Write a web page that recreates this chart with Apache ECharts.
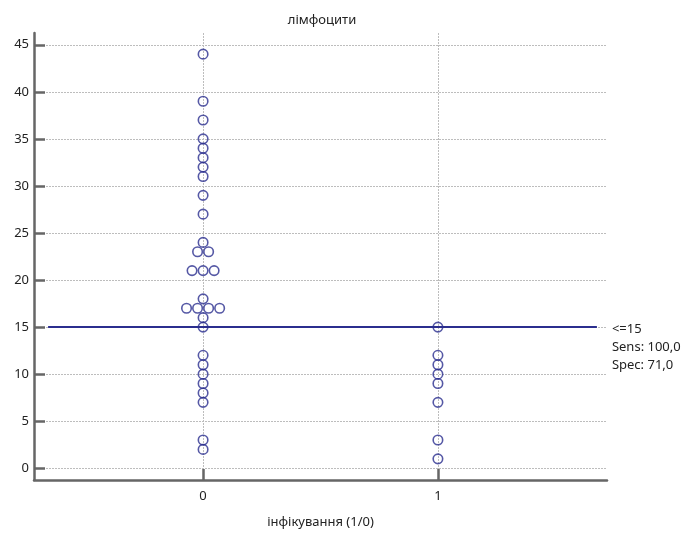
<!DOCTYPE html>
<html>
<head>
<meta charset="utf-8">
<script src="https://cdn.jsdelivr.net/npm/echarts@6/dist/echarts.min.js"></script>
<style>
  html, body { margin: 0; padding: 0; background: #fff; }
  #chart { width: 690px; height: 534px; }
</style>
</head>
<body>
<div id="chart"></div>
<script>
// Lymphocyte counts by infection status (0 = not infected, 1 = infected)
const groups = [0, 1];
const lymphGroup0 = [44, 39, 37, 35, 34, 33, 32, 31, 29, 27, 24, 23, 23, 21, 21, 21,
                     18, 17, 17, 17, 17, 16, 15, 12, 11, 10, 9, 8, 7, 3, 2];
const lymphGroup1 = [15, 12, 11, 10, 9, 7, 3, 1];
const yTicks = [0, 5, 10, 15, 20, 25, 30, 35, 40, 45];

// Criterion from ROC analysis
const cutoff = 15;
const cutoffLabel = ['<=15', 'Sens: 100,0', 'Spec: 71,0'];

const FONT = '"Noto Sans", "Open Sans", sans-serif';
const NAVY = '#2b2e8e';
const AXIS = '#666666';
const GRID = '#bdbdbd';

// Spread equal values side by side, centred on the group position
const SPREAD = 0.047;
function dotPlot(x, values) {
  const counts = {};
  values.forEach(v => { counts[v] = (counts[v] || 0) + 1; });
  const seen = {};
  return values.map(v => {
    const n = counts[v];
    const i = seen[v] = (seen[v] === undefined ? 0 : seen[v] + 1);
    return [x + (i - (n - 1) / 2) * SPREAD, v];
  });
}

const points = dotPlot(groups[0], lymphGroup0).concat(dotPlot(groups[1], lymphGroup1));

const chart = echarts.init(document.getElementById('chart'));
chart.setOption({
  animation: false,
  backgroundColor: '#fff',
  textStyle: { fontFamily: FONT },
  title: {
    text: 'лімфоцити',
    left: 317, top: 9, textAlign: 'center',
    textStyle: { fontFamily: FONT, fontSize: 13, fontWeight: 'normal', color: '#222' }
  },
  grid: { left: 34, right: 83, top: 33, bottom: 47 },
  xAxis: {
    type: 'value',
    min: -0.72, max: 1.72,
    name: 'інфікування (1/0)',
    nameLocation: 'middle', nameGap: 36,
    nameTextStyle: { fontFamily: FONT, fontSize: 13, color: '#222' },
    axisLine: { show: true, onZero: false, lineStyle: { color: AXIS, width: 2.5 } },
    axisTick: { show: true, inside: true, length: 11, customValues: groups,
                lineStyle: { color: AXIS, width: 2.5 } },
    axisLabel: { customValues: groups, margin: 10, fontFamily: FONT, fontSize: 13, color: '#222' },
    splitLine: { show: true, lineStyle: { type: [2, 1], color: GRID, width: 1 } }
  },
  yAxis: {
    type: 'value',
    min: -1.25, max: 46.25,
    axisLine: { show: true, onZero: false, lineStyle: { color: AXIS, width: 2.5 } },
    axisTick: { show: true, inside: true, length: 11, customValues: yTicks,
                lineStyle: { color: AXIS, width: 2.5 } },
    axisLabel: { customValues: yTicks, margin: 5, fontFamily: FONT, fontSize: 13, color: '#222' },
    splitLine: { show: true, lineStyle: { type: [2, 1], color: GRID, width: 1 } }
  },
  series: [
    {
      type: 'line',
      data: [[-0.66, cutoff], [1.677, cutoff]],
      symbol: 'none',
      lineStyle: { color: NAVY, width: 2 },
      z: 2
    },
    {
      type: 'scatter',
      data: points,
      symbol: 'circle',
      symbolSize: 9.5,
      itemStyle: { color: 'rgba(0,0,0,0)', borderColor: NAVY, borderWidth: 1.6 },
      z: 3
    }
  ]
});

// Criterion annotation to the right of the cut-off line
const end = chart.convertToPixel({ gridIndex: 0 }, [1.677, cutoff]);
chart.setOption({
  graphic: [{
    type: 'text',
    left: end[0] + 15,
    top: end[1] - 7,
    style: {
      text: cutoffLabel.join('\n'),
      font: '13px ' + FONT,
      fill: '#222',
      lineHeight: 18
    }
  }]
});
</script>
</body>
</html>
